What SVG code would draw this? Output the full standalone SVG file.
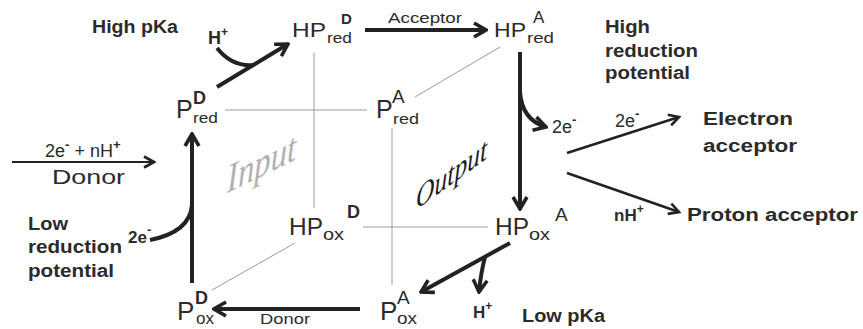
<svg xmlns="http://www.w3.org/2000/svg" width="863" height="329" viewBox="0 0 863 329">
<defs>
<style>
.t{font-family:"Liberation Sans",Arial,sans-serif;fill:#2b2b2b}
.b{font-weight:bold}
.thin{stroke:#9a9a9a;stroke-width:1;fill:none}
.k{stroke:#222;stroke-width:4;fill:none;stroke-linecap:butt}
.m{stroke:#222;stroke-width:2.6;fill:none}
.s{stroke:#222;stroke-width:2;fill:none}
.serif{font-family:"Liberation Serif","Times New Roman",serif;font-style:italic}
</style>
<marker id="ah" viewBox="-14 -9 16 18" markerWidth="16" markerHeight="18" refX="0" refY="0" orient="auto" markerUnits="userSpaceOnUse">
<path d="M-12,-7 L0,0 L-12,7" fill="none" stroke="#222" stroke-width="3.6" stroke-linejoin="miter"/>
</marker>
<marker id="am" viewBox="-12 -8 14 16" markerWidth="14" markerHeight="16" refX="0" refY="0" orient="auto" markerUnits="userSpaceOnUse">
<path d="M-10,-5.5 L0,0 L-10,5.5" fill="none" stroke="#222" stroke-width="2.6"/>
</marker>
</defs>
<rect width="863" height="329" fill="#fff"/>

<g id="connectors">
<line class="thin" x1="225" y1="110" x2="367" y2="110"/>
<line class="thin" x1="314" y1="53" x2="314" y2="208"/>
<line class="thin" x1="415" y1="97" x2="500" y2="47"/>
<line class="thin" x1="392" y1="128" x2="392" y2="285"/>
<line class="thin" x1="363" y1="227" x2="488" y2="227"/>
<line class="thin" x1="212" y1="290" x2="295" y2="243"/>
<line class="k" x1="217" y1="87" x2="288" y2="44" marker-end="url(#ah)"/>
<path class="k" d="M217,48 Q232,67 254,65" stroke-width="3.5"/>
<line class="k" x1="365" y1="30" x2="486" y2="30" marker-end="url(#ah)"/>
<line class="k" x1="520" y1="52" x2="520" y2="209" marker-end="url(#ah)"/>
<path class="k" d="M520,92 Q522,120 546,127" stroke-width="3.5" marker-end="url(#ah)"/>
<line class="k" x1="510" y1="243" x2="421" y2="292" marker-end="url(#ah)"/>
<path class="k" d="M485,257 Q481,272 479,292" stroke-width="3.5" marker-end="url(#ah)"/>
<line class="k" x1="360" y1="309" x2="214" y2="309" marker-end="url(#ah)"/>
<line class="k" x1="192" y1="283" x2="192" y2="134" marker-end="url(#ah)"/>
<path class="k" d="M150,240 Q190,232 192,205" stroke-width="3.5"/>
<line class="m" x1="567" y1="153" x2="679" y2="117" marker-end="url(#am)"/>
<line class="m" x1="567" y1="173" x2="679" y2="212" marker-end="url(#am)"/>
<line class="s" x1="12" y1="162" x2="154" y2="162" marker-end="url(#am)"/>
</g>

<g id="n-hpredD">
<text class="t" x="292" y="37" font-size="21" textLength="34" lengthAdjust="spacingAndGlyphs">HP</text>
<text class="t" x="327" y="43" font-size="15" textLength="25" lengthAdjust="spacingAndGlyphs">red</text>
<text class="t b" x="341" y="24" font-size="15">D</text>
</g>
<g id="n-hpredA">
<text class="t" x="494" y="37" font-size="21" textLength="32" lengthAdjust="spacingAndGlyphs">HP</text>
<text class="t" x="527" y="43" font-size="15" textLength="27" lengthAdjust="spacingAndGlyphs">red</text>
<text class="t" x="533" y="23" font-size="17">A</text>
</g>
<g id="n-predD">
<text class="t" x="176" y="118" font-size="25">P</text>
<text class="t b" x="193" y="104" font-size="18">D</text>
<text class="t" x="193" y="123" font-size="15" textLength="25" lengthAdjust="spacingAndGlyphs">red</text>
</g>
<g id="n-predA">
<text class="t" x="376" y="118" font-size="25">P</text>
<text class="t" x="392" y="103" font-size="19">A</text>
<text class="t" x="393" y="124" font-size="15" textLength="26" lengthAdjust="spacingAndGlyphs">red</text>
</g>
<g id="n-hpoxD">
<text class="t" x="289" y="235" font-size="24" textLength="34" lengthAdjust="spacingAndGlyphs">HP</text>
<text class="t" x="323" y="240" font-size="17" textLength="21" lengthAdjust="spacingAndGlyphs">ox</text>
<text class="t b" x="347" y="218" font-size="18">D</text>
</g>
<g id="n-hpoxA">
<text class="t" x="495" y="235" font-size="24" textLength="34" lengthAdjust="spacingAndGlyphs">HP</text>
<text class="t" x="529" y="240" font-size="17" textLength="21" lengthAdjust="spacingAndGlyphs">ox</text>
<text class="t" x="555" y="221" font-size="19">A</text>
</g>
<g id="n-poxD">
<text class="t" x="177" y="320" font-size="26">P</text>
<text class="t b" x="195" y="304" font-size="18">D</text>
<text class="t" x="196" y="324" font-size="17" textLength="18" lengthAdjust="spacingAndGlyphs">ox</text>
</g>
<g id="n-poxA">
<text class="t" x="380" y="320" font-size="26">P</text>
<text class="t" x="397" y="304" font-size="19">A</text>
<text class="t" x="397" y="324" font-size="17" textLength="20" lengthAdjust="spacingAndGlyphs">ox</text>
</g>

<g id="labels">
<text class="t b" x="92" y="33" font-size="18" textLength="86" lengthAdjust="spacingAndGlyphs">High pKa</text>
<text class="t b" x="208" y="44" font-size="18">H<tspan dy="-8" font-size="12">+</tspan></text>
<text class="t" x="388" y="23" font-size="15" textLength="74" lengthAdjust="spacingAndGlyphs">Acceptor</text>
<text class="t b" x="605" y="33" font-size="18" textLength="45" lengthAdjust="spacingAndGlyphs">High</text>
<text class="t b" x="605" y="57" font-size="18" textLength="93" lengthAdjust="spacingAndGlyphs">reduction</text>
<text class="t b" x="605" y="79" font-size="18" textLength="85" lengthAdjust="spacingAndGlyphs">potential</text>
<text class="t" x="552" y="133" font-size="18">2e<tspan dy="-9" font-size="13" font-weight="bold">-</tspan></text>
<text class="t" x="615" y="127" font-size="18">2e<tspan dy="-9" font-size="13" font-weight="bold">-</tspan></text>
<text class="t b" x="703" y="125" font-size="18" textLength="90" lengthAdjust="spacingAndGlyphs">Electron</text>
<text class="t b" x="703" y="152" font-size="18" textLength="94" lengthAdjust="spacingAndGlyphs">acceptor</text>
<text class="t b" x="614" y="221" font-size="17">nH<tspan dy="-8" font-size="12">+</tspan></text>
<text class="t b" x="687" y="221" font-size="18" textLength="171" lengthAdjust="spacingAndGlyphs">Proton acceptor</text>
<text class="t" x="45" y="157" font-size="18">2e<tspan dy="-8" font-size="13" font-weight="bold">-</tspan><tspan dy="8"> + nH</tspan><tspan dy="-8" font-size="13" font-weight="bold">+</tspan></text>
<text class="t" x="52" y="184" font-size="21" textLength="73" lengthAdjust="spacingAndGlyphs">Donor</text>
<text class="t b" x="28" y="230" font-size="18" textLength="40" lengthAdjust="spacingAndGlyphs">Low</text>
<text class="t b" x="28" y="253" font-size="18" textLength="94" lengthAdjust="spacingAndGlyphs">reduction</text>
<text class="t b" x="28" y="277" font-size="18" textLength="86" lengthAdjust="spacingAndGlyphs">potential</text>
<text class="t b" x="128" y="243" font-size="17">2e<tspan dy="-9" font-size="13">-</tspan></text>
<text class="t" x="260" y="324" font-size="15" textLength="50" lengthAdjust="spacingAndGlyphs">Donor</text>
<text class="t b" x="473" y="318" font-size="17">H<tspan dy="-8" font-size="12">+</tspan></text>
<text class="t b" x="522" y="322" font-size="18" textLength="83" lengthAdjust="spacingAndGlyphs">Low pKa</text>
<text class="serif" x="0" y="0" font-size="40" fill="#b0b0b0" transform="translate(227,193) skewY(-26) scale(0.82,1)">Input</text>
<text class="serif" x="0" y="0" font-size="32" fill="#1e1e1e" transform="translate(416,210) skewY(-36) scale(0.8,1)">Output</text>
</g>
</svg>
